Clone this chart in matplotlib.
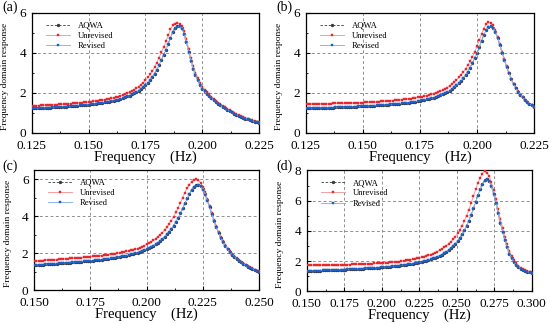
import numpy as np
import matplotlib
matplotlib.use("Agg")
import matplotlib.pyplot as plt
from matplotlib.ticker import AutoMinorLocator, MultipleLocator

plt.rcParams["font.family"] = ["Liberation Serif", "DejaVu Serif"]
plt.rcParams["font.size"] = 9

# ── data ─────────────────────────────────────────────────────────────────────

PANELS = ["(a)", "(b)", "(c)", "(d)"]
FREQ_RANGE = [(0.125, 0.225), (0.125, 0.225), (0.150, 0.250), (0.150, 0.300)]
N_POINTS = 101
X_TICKS = [[0.125, 0.150, 0.175, 0.200, 0.225],
           [0.125, 0.150, 0.175, 0.200, 0.225],
           [0.150, 0.175, 0.200, 0.225, 0.250],
           [0.150, 0.175, 0.200, 0.225, 0.250, 0.275, 0.300]]
Y_MAX = [6, 6, 6.5, 8]
Y_TICKS = [[0, 2, 4, 6], [0, 2, 4, 6], [0, 2, 4, 6], [0, 2, 4, 6, 8]]

revised_a = [
    1.22, 1.23, 1.23, 1.24, 1.24, 1.25, 1.25, 1.26, 1.26, 1.27,
    1.28, 1.28, 1.29, 1.30, 1.30, 1.31, 1.32, 1.33, 1.34, 1.35,
    1.36, 1.37, 1.38, 1.39, 1.40, 1.41, 1.42, 1.44, 1.45, 1.47,
    1.48, 1.50, 1.52, 1.54, 1.56, 1.58, 1.61, 1.63, 1.66, 1.69,
    1.73, 1.77, 1.82, 1.86, 1.92, 1.97, 2.03, 2.10, 2.18, 2.28,
    2.38, 2.50, 2.64, 2.79, 2.96, 3.16, 3.39, 3.64, 3.90, 4.15,
    4.45, 4.75, 5.05, 5.22, 5.31, 5.33,
    5.22, 4.95, 4.55, 4.05, 3.60, 3.20, 2.88, 2.62, 2.40, 2.20,
    2.07, 1.95, 1.84, 1.74, 1.64, 1.54, 1.45, 1.37, 1.29, 1.22,
    1.15, 1.08, 1.02, 0.96, 0.90, 0.85, 0.80, 0.76, 0.71, 0.67,
    0.63, 0.60, 0.56, 0.53, 0.50]
aqwa_a = [
    1.22, 1.23, 1.23, 1.24, 1.24, 1.25, 1.25, 1.26, 1.26, 1.27,
    1.28, 1.28, 1.29, 1.30, 1.30, 1.31, 1.32, 1.33, 1.34, 1.35,
    1.36, 1.37, 1.38, 1.39, 1.40, 1.41, 1.42, 1.44, 1.45, 1.47,
    1.48, 1.50, 1.52, 1.54, 1.56, 1.58, 1.61, 1.63, 1.66, 1.69,
    1.73, 1.77, 1.82, 1.86, 1.92, 1.97, 2.03, 2.10, 2.18, 2.28,
    2.38, 2.50, 2.64, 2.79, 2.96, 3.16, 3.39, 3.64, 3.90, 4.16,
    4.46, 4.76, 5.06, 5.24, 5.33, 5.35,
    5.24, 4.96, 4.56, 4.06, 3.60, 3.20, 2.88, 2.62, 2.40, 2.20,
    2.07, 1.95, 1.84, 1.74, 1.64, 1.54, 1.45, 1.37, 1.29, 1.22,
    1.15, 1.08, 1.02, 0.96, 0.90, 0.85, 0.80, 0.76, 0.71, 0.67,
    0.63, 0.60, 0.56, 0.53, 0.50]
unrevised_a = [
    1.35, 1.35, 1.36, 1.36, 1.37, 1.37, 1.38, 1.38, 1.39, 1.40,
    1.40, 1.41, 1.42, 1.42, 1.43, 1.44, 1.45, 1.46, 1.47, 1.48,
    1.49, 1.50, 1.51, 1.52, 1.53, 1.54, 1.56, 1.57, 1.59, 1.60,
    1.62, 1.64, 1.66, 1.68, 1.70, 1.73, 1.75, 1.78, 1.81, 1.85,
    1.89, 1.94, 1.98, 2.04, 2.09, 2.15, 2.22, 2.30,
    2.41, 2.51, 2.63, 2.77, 2.92, 3.09, 3.29, 3.52, 3.77, 4.03,
    4.28, 4.58, 4.88, 5.18, 5.38, 5.47, 5.50, 5.45,
    5.34, 5.08, 4.70, 4.22, 3.76, 3.35, 3.01, 2.74, 2.51, 2.30,
    2.16, 2.03, 1.92, 1.81, 1.71, 1.61, 1.51, 1.43, 1.35, 1.27,
    1.20, 1.13, 1.06, 1.00, 0.94, 0.89, 0.84, 0.79, 0.74, 0.70,
    0.66, 0.62, 0.59, 0.56, 0.53]

revised_b = [
    1.22, 1.22, 1.23, 1.23, 1.23, 1.24, 1.24, 1.24, 1.25, 1.25,
    1.26, 1.26, 1.26, 1.27, 1.27, 1.28, 1.28, 1.29, 1.29, 1.30,
    1.30, 1.31, 1.31, 1.32, 1.32, 1.33, 1.34, 1.34, 1.35, 1.35,
    1.36, 1.37, 1.38, 1.38, 1.39, 1.40, 1.41, 1.42, 1.43, 1.44,
    1.45, 1.46, 1.47, 1.48, 1.49, 1.51, 1.52, 1.54, 1.56, 1.58,
    1.60, 1.62, 1.64, 1.67, 1.69, 1.72, 1.76, 1.79, 1.83, 1.88,
    1.92, 1.98, 2.04, 2.11, 2.19, 2.27, 2.37, 2.48, 2.58, 2.72,
    2.88, 3.06, 3.27, 3.50, 3.74, 3.97, 4.27, 4.60, 4.90, 5.13,
    5.28, 5.33,
    5.25, 5.05, 4.75, 4.40, 4.02, 3.65, 3.30, 2.98, 2.70, 2.45,
    2.24, 2.06, 1.90, 1.77, 1.65, 1.54, 1.45, 1.37, 1.30]
aqwa_b = [
    1.22, 1.22, 1.23, 1.23, 1.23, 1.24, 1.24, 1.24, 1.25, 1.25,
    1.26, 1.26, 1.26, 1.27, 1.27, 1.28, 1.28, 1.29, 1.29, 1.30,
    1.30, 1.31, 1.31, 1.32, 1.32, 1.33, 1.34, 1.34, 1.35, 1.35,
    1.36, 1.37, 1.38, 1.38, 1.39, 1.40, 1.41, 1.42, 1.43, 1.44,
    1.45, 1.46, 1.47, 1.48, 1.49, 1.51, 1.52, 1.54, 1.56, 1.58,
    1.60, 1.62, 1.64, 1.67, 1.69, 1.72, 1.76, 1.79, 1.83, 1.88,
    1.92, 1.98, 2.04, 2.11, 2.19, 2.27, 2.37, 2.48, 2.58, 2.72,
    2.88, 3.06, 3.27, 3.50, 3.75, 3.98, 4.28, 4.62, 4.92, 5.15,
    5.30, 5.35,
    5.27, 5.06, 4.76, 4.40, 4.02, 3.65, 3.30, 2.98, 2.70, 2.45,
    2.24, 2.06, 1.90, 1.77, 1.65, 1.54, 1.45, 1.37, 1.30]
unrevised_b = [
    1.44, 1.44, 1.44, 1.45, 1.45, 1.45, 1.45, 1.46, 1.46, 1.46,
    1.46, 1.46, 1.47, 1.47, 1.47, 1.47, 1.48, 1.48, 1.48, 1.49,
    1.49, 1.49, 1.50, 1.50, 1.51, 1.51, 1.52, 1.52, 1.53, 1.54,
    1.54, 1.55, 1.56, 1.57, 1.58, 1.58, 1.59, 1.60, 1.61, 1.62,
    1.63, 1.64, 1.66, 1.67, 1.68, 1.70, 1.71, 1.73, 1.75, 1.77,
    1.79, 1.81, 1.84, 1.86, 1.89, 1.92, 1.96, 2.00, 2.04, 2.08,
    2.13, 2.19, 2.26, 2.34, 2.43, 2.53, 2.64, 2.77, 2.91, 3.05,
    3.20, 3.38, 3.58, 3.80, 4.05, 4.33, 4.63, 4.94, 5.22, 5.43,
    5.53, 5.50,
    5.38, 5.14, 4.82, 4.45, 4.06, 3.68, 3.33, 3.00, 2.71, 2.46,
    2.25, 2.07, 1.91, 1.78, 1.66, 1.55, 1.46, 1.38, 1.31]

revised_c = [
    1.36, 1.37, 1.37, 1.38, 1.39, 1.40, 1.41, 1.41, 1.42, 1.43,
    1.44, 1.45, 1.46, 1.47, 1.48, 1.49, 1.50, 1.51, 1.52, 1.53,
    1.54, 1.55, 1.56, 1.57, 1.58, 1.59, 1.61, 1.62, 1.63, 1.65,
    1.66, 1.68, 1.69, 1.71, 1.73, 1.75, 1.77, 1.79, 1.81, 1.83,
    1.86, 1.88, 1.91, 1.94, 1.97, 2.00, 2.04, 2.08, 2.12, 2.17,
    2.22, 2.28, 2.34, 2.41, 2.49, 2.57, 2.66, 2.77, 2.88, 3.02,
    3.16, 3.32, 3.50, 3.70, 3.92, 4.16, 4.42, 4.69, 4.95, 5.20,
    5.42, 5.58, 5.66, 5.68,
    5.62, 5.45, 5.18, 4.85, 4.48, 4.10, 3.74, 3.40, 3.10, 2.83,
    2.60, 2.40, 2.22, 2.07, 1.93, 1.81, 1.70, 1.60, 1.51, 1.43,
    1.35, 1.28, 1.22, 1.16, 1.10, 1.05, 1.00]
aqwa_c = [
    1.36, 1.37, 1.37, 1.38, 1.39, 1.40, 1.41, 1.41, 1.42, 1.43,
    1.44, 1.45, 1.46, 1.47, 1.48, 1.49, 1.50, 1.51, 1.52, 1.53,
    1.54, 1.55, 1.56, 1.57, 1.58, 1.59, 1.61, 1.62, 1.63, 1.65,
    1.66, 1.68, 1.69, 1.71, 1.73, 1.75, 1.77, 1.79, 1.81, 1.83,
    1.86, 1.88, 1.91, 1.94, 1.97, 2.00, 2.04, 2.08, 2.12, 2.17,
    2.22, 2.28, 2.34, 2.41, 2.49, 2.57, 2.66, 2.77, 2.88, 3.02,
    3.16, 3.32, 3.50, 3.71, 3.93, 4.17, 4.43, 4.70, 4.97, 5.22,
    5.44, 5.60, 5.69, 5.71,
    5.64, 5.46, 5.19, 4.86, 4.48, 4.10, 3.74, 3.40, 3.10, 2.83,
    2.60, 2.40, 2.22, 2.07, 1.93, 1.81, 1.70, 1.60, 1.51, 1.43,
    1.35, 1.28, 1.22, 1.16, 1.10, 1.05, 1.00]
unrevised_c = [
    1.58, 1.59, 1.59, 1.60, 1.61, 1.62, 1.63, 1.63, 1.64, 1.65,
    1.66, 1.67, 1.68, 1.69, 1.70, 1.71, 1.72, 1.73, 1.74, 1.75,
    1.76, 1.77, 1.78, 1.79, 1.80, 1.81, 1.83, 1.84, 1.85, 1.87,
    1.88, 1.90, 1.91, 1.93, 1.95, 1.97, 1.99, 2.01, 2.03, 2.05,
    2.08, 2.10, 2.13, 2.16, 2.19, 2.22,
    2.26, 2.31, 2.36, 2.42, 2.48, 2.55, 2.62, 2.70, 2.79, 2.89,
    3.00, 3.12, 3.26, 3.41, 3.58, 3.77, 3.98, 4.21, 4.46, 4.73,
    5.00, 5.27, 5.52, 5.72, 5.87, 5.96, 6.00, 5.95,
    5.82, 5.60, 5.30, 4.95, 4.57, 4.18, 3.81, 3.47, 3.16, 2.89,
    2.65, 2.44, 2.26, 2.10, 1.96, 1.84, 1.73, 1.63, 1.54, 1.45,
    1.38, 1.31, 1.24, 1.18, 1.12, 1.07, 1.02]

revised_d = [
    1.34, 1.35, 1.35, 1.36, 1.36, 1.37, 1.37, 1.38, 1.38, 1.39,
    1.39, 1.40, 1.41, 1.41, 1.42, 1.43, 1.43, 1.44, 1.45, 1.45,
    1.46, 1.47, 1.48, 1.49, 1.49, 1.50, 1.51, 1.52, 1.53, 1.54,
    1.55, 1.56, 1.57, 1.59, 1.60, 1.61, 1.63, 1.64, 1.65, 1.67,
    1.69, 1.70, 1.72, 1.74, 1.76, 1.79, 1.81, 1.83, 1.86, 1.89,
    1.92, 1.95, 1.99, 2.02, 2.07, 2.12, 2.17, 2.22, 2.28, 2.35,
    2.43, 2.51, 2.61, 2.72, 2.84, 2.98, 3.13, 3.31, 3.52, 3.75,
    4.02, 4.32, 4.66, 5.04, 5.45, 5.90, 6.34, 6.72, 7.05, 7.30,
    7.40,
    7.28, 6.95, 6.45, 5.85, 5.20, 4.55, 3.93, 3.38, 2.90, 2.50,
    2.18, 1.93, 1.74, 1.60, 1.50, 1.42, 1.35, 1.30, 1.25, 1.20]
aqwa_d = [
    1.34, 1.35, 1.35, 1.36, 1.36, 1.37, 1.37, 1.38, 1.38, 1.39,
    1.39, 1.40, 1.41, 1.41, 1.42, 1.43, 1.43, 1.44, 1.45, 1.45,
    1.46, 1.47, 1.48, 1.49, 1.49, 1.50, 1.51, 1.52, 1.53, 1.54,
    1.55, 1.56, 1.57, 1.59, 1.60, 1.61, 1.63, 1.64, 1.65, 1.67,
    1.69, 1.70, 1.72, 1.74, 1.76, 1.79, 1.81, 1.83, 1.86, 1.89,
    1.92, 1.95, 1.99, 2.02, 2.07, 2.12, 2.17, 2.22, 2.28, 2.35,
    2.43, 2.51, 2.61, 2.72, 2.84, 2.98, 3.13, 3.31, 3.52, 3.76,
    4.03, 4.34, 4.68, 5.07, 5.48, 5.93, 6.38, 6.77, 7.10, 7.36,
    7.46,
    7.33, 6.98, 6.47, 5.86, 5.21, 4.55, 3.93, 3.38, 2.90, 2.50,
    2.18, 1.93, 1.74, 1.60, 1.50, 1.42, 1.35, 1.30, 1.25, 1.20]
unrevised_d = [
    1.72, 1.72, 1.72, 1.72, 1.73, 1.73, 1.73, 1.73, 1.73, 1.74,
    1.74, 1.74, 1.75, 1.75, 1.75, 1.76, 1.76, 1.77, 1.77, 1.77,
    1.78, 1.78, 1.79, 1.79, 1.80, 1.81, 1.81, 1.82, 1.83, 1.83,
    1.84, 1.85, 1.86, 1.87, 1.88, 1.89, 1.90, 1.91, 1.93, 1.94,
    1.95, 1.97, 1.99, 2.01, 2.04, 2.06, 2.08, 2.11, 2.14, 2.17,
    2.20, 2.24, 2.28, 2.33, 2.38, 2.43, 2.49, 2.56, 2.63, 2.71,
    2.80, 2.90, 3.01, 3.14, 3.28, 3.44, 3.62, 3.83, 4.07, 4.35,
    4.66, 5.01, 5.40, 5.83, 6.29, 6.75, 7.16, 7.52, 7.79, 7.93,
    7.85,
    7.62, 7.22, 6.70, 6.10, 5.45, 4.80, 4.17, 3.60, 3.10, 2.68,
    2.34, 2.06, 1.85, 1.69, 1.57, 1.47, 1.39, 1.33, 1.27, 1.22]

AQWA      = [aqwa_a, aqwa_b, aqwa_c, aqwa_d]
UNREVISED = [unrevised_a, unrevised_b, unrevised_c, unrevised_d]
REVISED   = [revised_a, revised_b, revised_c, revised_d]

# ── layout (figure fractions measured off the 550x324 reference) ─────────────

AX_RECTS = [
    [0.058, 0.590, 0.413, 0.370],
    [0.556, 0.590, 0.415, 0.370],
    [0.062, 0.104, 0.409, 0.371],
    [0.558, 0.101, 0.409, 0.373],
]
LABEL_POS = [(0.004, 0.998), (0.503, 0.998), (0.004, 0.508), (0.503, 0.508)]

fig = plt.figure(figsize=(5.5, 3.24), dpi=100)

for i in range(4):
    ax = fig.add_axes(AX_RECTS[i])
    f0, f1 = FREQ_RANGE[i]
    x = np.linspace(f0, f1, N_POINTS)

    ax.plot(x, AQWA[i], color="#3a3a3a", lw=0.6, ls=(0, (3, 2)),
            marker="o", ms=1.4, mfc="#3a3a3a", mec="#3a3a3a", label="AQWA", zorder=3)
    ax.plot(x, UNREVISED[i], color="#f2a0a0", lw=0.7,
            marker="s", ms=2.0, mfc="#e8282c", mec="#e8282c", mew=0.3,
            label="Unrevised", zorder=4)
    ax.plot(x, REVISED[i], color="#8fb6e6", lw=0.7,
            marker="s", ms=2.0, mfc="#1c5fc9", mec="#1c5fc9", mew=0.3,
            label="Revised", zorder=5)

    ax.set_xlim(f0, f1)
    ax.set_ylim(0, Y_MAX[i])
    ax.set_xticks(X_TICKS[i])
    ax.set_xticklabels([f"{t:.3f}" for t in X_TICKS[i]])
    ax.set_yticks(Y_TICKS[i])
    ax.xaxis.set_minor_locator(AutoMinorLocator(2))
    ax.yaxis.set_minor_locator(MultipleLocator(1))
    ax.tick_params(which="both", direction="in", labelsize=9.5)
    ax.tick_params(axis="x", pad=5)
    ax.tick_params(axis="y", pad=4)
    ax.tick_params(which="major", length=3, width=0.8)
    ax.tick_params(which="minor", length=1.6, width=0.6)

    ax.grid(True, which="major", color="#909090", lw=0.7, ls=(0, (3, 2.5)))
    ax.set_axisbelow(True)
    for sp in ax.spines.values():
        sp.set_linewidth(0.9)

    ax.set_xlabel("Frequency    (Hz)", fontsize=10.5, labelpad=-1)
    ax.set_ylabel("Frequency domain response", fontsize=6.8, labelpad=2)
    ax.yaxis.set_label_coords(-0.1, 0.47)

    ax.legend(loc="upper left", bbox_to_anchor=(0.04, 0.97), frameon=False,
              fontsize=6.2, handlelength=2.8, handletextpad=0.9,
              labelspacing=0.25, borderaxespad=0.2, numpoints=1)

    fig.text(LABEL_POS[i][0], LABEL_POS[i][1], PANELS[i], fontsize=10,
             ha="left", va="top")

fig.savefig("out.png", dpi=100)
